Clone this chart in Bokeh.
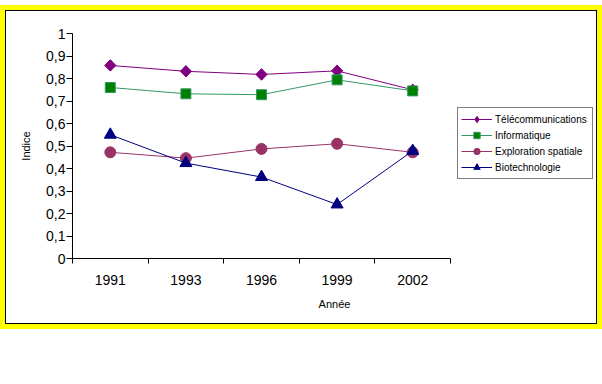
from bokeh.plotting import figure
from bokeh.models import Range1d, FixedTicker, Legend, LegendItem
from bokeh.embed import file_html
from bokeh.resources import INLINE

years = ["1991", "1993", "1996", "1999", "2002"]
telecom = [0.858, 0.832, 0.818, 0.834, 0.75]
informatique = [0.76, 0.732, 0.728, 0.794, 0.745]
exploration = [0.472, 0.446, 0.487, 0.51, 0.472]
biotech = [0.55, 0.424, 0.362, 0.24, 0.478]
y_ticks = [0.0, 0.1, 0.2, 0.3, 0.4, 0.5, 0.6, 0.7, 0.8, 0.9, 1.0]
y_labels = ["0", "0,1", "0,2", "0,3", "0,4", "0,5", "0,6", "0,7", "0,8", "0,9", "1"]

xs = [i + 0.5 for i in range(len(years))]
FONT = "Liberation Sans"
TICK_FONT = "Liberation Sans"

# plot frame spans the legend area too; the data part (0..n) occupies 378 of 524 px
W, H = 590, 312
LEFT, TOP, BOTTOM = 66, 22, 65
DATA_PX = 378
frame_w = W - LEFT
n = len(years)
x_end = n * frame_w / DATA_PX

p = figure(width=W, height=H, x_range=Range1d(0, x_end), y_range=Range1d(0, 1),
           output_backend="svg", toolbar_location=None,
           min_border_left=LEFT, min_border_right=0, min_border_top=TOP, min_border_bottom=BOTTOM)
p.styles = {"transform": "translate(6px, 11px)", "outline": "1px solid black",
            "box-shadow": "0 0 0 6px #FFFF00"}
p.outline_line_color = None
p.grid.visible = False
p.background_fill_color = "white"
p.border_fill_color = "white"

# x axis
xa = p.xaxis[0]
xa.bounds = (0, n)
xa.ticker = FixedTicker(ticks=xs, minor_ticks=list(range(n + 1)))
xa.major_label_overrides = {x: y for x, y in zip(xs, years)}
xa.major_tick_line_color = None
xa.major_tick_out = 5
xa.major_tick_in = 0
xa.minor_tick_line_color = "black"
xa.minor_tick_out = 5
xa.minor_tick_in = 0
xa.major_label_standoff = 11
xa.major_label_text_font = TICK_FONT
xa.major_label_text_font_size = "14px"
xa.major_label_text_color = "black"
xa.axis_line_color = "black"
xa.axis_label = "Année"
xa.axis_label_text_font = FONT
xa.axis_label_text_font_size = "11px"
xa.axis_label_text_font_style = "normal"
xa.axis_label_text_color = "black"
xa.axis_label_standoff = 10

# y axis
ya = p.yaxis[0]
ya.ticker = FixedTicker(ticks=y_ticks, minor_ticks=[])
ya.major_label_overrides = {t: l for t, l in zip(y_ticks, y_labels)}
ya.major_tick_line_color = "black"
ya.major_tick_out = 6
ya.major_tick_in = 0
ya.major_label_standoff = 1
ya.major_label_text_font = TICK_FONT
ya.major_label_text_font_size = "14px"
ya.major_label_text_color = "black"
ya.axis_line_color = "black"
ya.axis_label = "Indice"
ya.axis_label_text_font = FONT
ya.axis_label_text_font_size = "11px"
ya.axis_label_text_font_style = "normal"
ya.axis_label_text_color = "black"
ya.axis_label_standoff = 11

items = []
l1 = p.line(xs, telecom, line_color="#800080", line_width=1)
# diamond used for the legend key; the rotated square drawn over it is the visible marker
k1 = p.scatter(xs, telecom, marker="diamond", size=11,
               fill_color="#800080", line_color="#800080")
m1 = p.scatter(xs, telecom, marker="square", angle=0.785398, size=8,
               fill_color="#800080", line_color="#800080")
items.append(LegendItem(label="Télécommunications", renderers=[l1, k1]))

l2 = p.line(xs, informatique, line_color="#339966", line_width=1)
m2 = p.scatter(xs, informatique, marker="square", size=10,
               fill_color="#008000", line_color="#339966")
items.append(LegendItem(label="Informatique", renderers=[l2, m2]))

l3 = p.line(xs, exploration, line_color="#993366", line_width=1)
m3 = p.scatter(xs, exploration, marker="circle", size=11,
               fill_color="#993366", line_color="#993366")
items.append(LegendItem(label="Exploration spatiale", renderers=[l3, m3]))

l4 = p.line(xs, biotech, line_color="#000080", line_width=1)
m4 = p.scatter(xs, biotech, marker="triangle", size=12,
               fill_color="#000080", line_color="#000080")
items.append(LegendItem(label="Biotechnologie", renderers=[l4, m4]))

legend = Legend(items=items, location=(385, 79))
legend.border_line_color = "black"
legend.border_line_width = 1
legend.background_fill_color = "white"
legend.background_fill_alpha = 1
legend.padding = 3
legend.margin = 0
legend.spacing = 0
legend.label_height = 16
legend.glyph_height = 16
legend.glyph_width = 31
legend.label_width = 94
legend.label_standoff = 3
legend.label_text_font = FONT
legend.label_text_font_size = "10px"
legend.label_text_color = "black"
p.add_layout(legend, "center")

open("out.html", "w").write(file_html(p, INLINE))
